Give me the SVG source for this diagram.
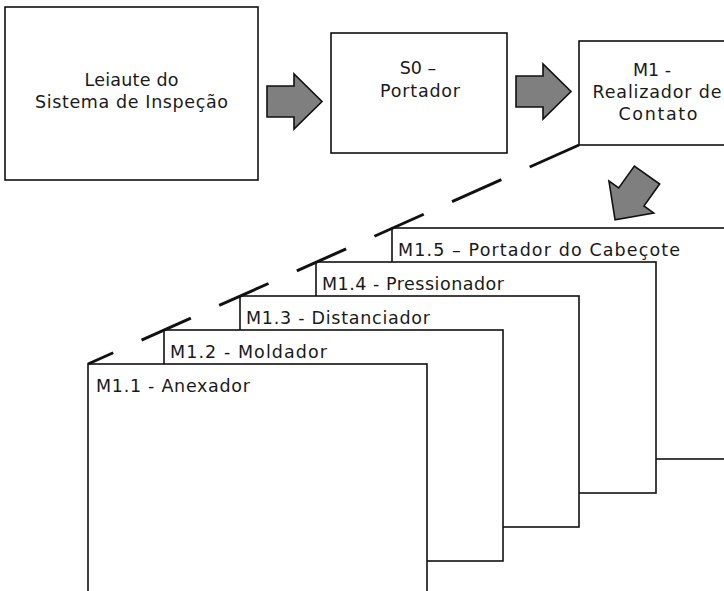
<svg xmlns="http://www.w3.org/2000/svg" width="724" height="591" viewBox="0 0 724 591">
  <defs>
    <style>
      .box { fill: #ffffff; stroke: #111111; stroke-width: 1.6; }
      .arrow { fill: #7f7f7f; stroke: #111111; stroke-width: 1.6; stroke-linejoin: miter; }
      .lbl { font-family: "DejaVu Sans", "Noto Sans", sans-serif; font-size: 17.5px; fill: #1a1a1a; }
      .mid { text-anchor: middle; }
      .dash { fill: none; stroke: #111111; stroke-width: 3; stroke-dasharray: 54 31; }
    </style>
    <!-- block arrow pointing along +x, origin at the back of the shaft -->
    <path id="blockArrow" d="M0,-15.5 H27 V-27.5 L55,0 L27,27.5 V15.5 H0 Z"/>
  </defs>

  <rect width="724" height="591" fill="#ffffff"/>

  <!-- top row -->
  <g id="leiaute">
    <rect class="box" x="5" y="7" width="253" height="173"/>
    <text class="lbl mid" x="131.5" y="86" textLength="94">Leiaute do</text>
    <text class="lbl mid" x="131.5" y="108" textLength="193">Sistema de Inspeção</text>
  </g>

  <g id="s0">
    <rect class="box" x="331" y="33" width="176" height="120"/>
    <text class="lbl mid" x="418" y="74">S0 –</text>
    <text class="lbl mid" x="420" y="97" textLength="80">Portador</text>
  </g>

  <g id="m1">
    <rect class="box" x="579" y="41" width="160" height="104"/>
    <text class="lbl mid" x="652" y="76">M1 -</text>
    <text class="lbl mid" x="657" y="98" textLength="129">Realizador de</text>
    <text class="lbl mid" x="658" y="120" textLength="79">Contato</text>
  </g>

  <!-- stacked sub-module sheets, back to front -->
  <g id="m1-5">
    <rect class="box" x="392" y="228" width="340" height="231"/>
    <text class="lbl" x="398" y="256" textLength="282">M1.5 – Portador do Cabeçote</text>
  </g>
  <g id="m1-4">
    <rect class="box" x="316" y="262" width="340" height="231"/>
    <text class="lbl" x="322" y="290" textLength="182">M1.4 - Pressionador</text>
  </g>
  <g id="m1-3">
    <rect class="box" x="240" y="296" width="339" height="231"/>
    <text class="lbl" x="246" y="324" textLength="184">M1.3 - Distanciador</text>
  </g>
  <g id="m1-2">
    <rect class="box" x="164" y="330" width="339" height="231"/>
    <text class="lbl" x="170" y="358" textLength="157">M1.2 - Moldador</text>
  </g>
  <g id="m1-1">
    <rect class="box" x="88" y="364" width="339" height="235"/>
    <text class="lbl" x="96" y="392" textLength="154">M1.1 - Anexador</text>
  </g>

  <!-- connectors -->
  <g id="connectors">
    <use href="#blockArrow" class="arrow" transform="translate(267,101.5)"/>
    <use href="#blockArrow" class="arrow" transform="translate(516,91.5)"/>
    <use href="#blockArrow" class="arrow" transform="translate(647,175) rotate(125.5)"/>
    <line class="dash" x1="579" y1="145" x2="88" y2="364"/>
  </g>
</svg>
